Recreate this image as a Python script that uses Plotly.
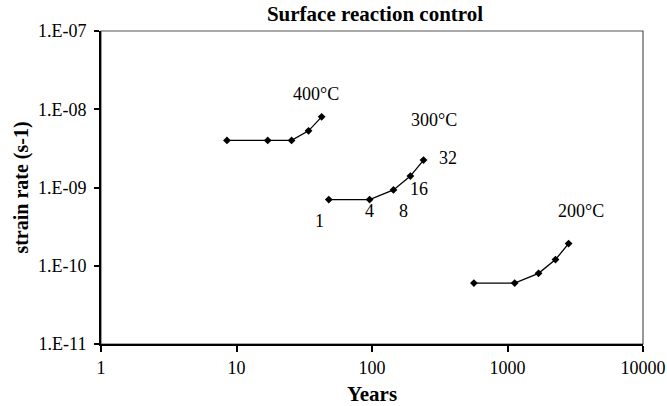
import math
import plotly.graph_objects as go

# Data
years_400 = [8.5, 17, 25.5, 34, 42.5]
rate_400 = [4.0e-9, 4.0e-9, 4.0e-9, 5.3e-9, 8.0e-9]
years_300 = [48, 96, 144, 192, 240]
rate_300 = [7.0e-10, 7.0e-10, 9.3e-10, 1.4e-9, 2.24e-9]
years_200 = [565, 1130, 1695, 2260, 2825]
rate_200 = [6.0e-11, 6.0e-11, 8.0e-11, 1.2e-10, 1.92e-10]
point_labels_300 = ["1", "4", "8", "16", "32"]
temp_labels = ["400°C", "300°C", "200°C"]

x_tickvals = [1, 10, 100, 1000, 10000]
x_ticktext = ["1", "10", "100", "1000", "10000"]
y_tickvals = [1e-11, 1e-10, 1e-9, 1e-8, 1e-7]
y_ticktext = ["1.E-11", "1.E-10", "1.E-09", "1.E-08", "1.E-07"]

FONT = "Liberation Serif, Times New Roman, serif"

fig = go.Figure()
for xs, ys in [(years_400, rate_400), (years_300, rate_300), (years_200, rate_200)]:
    fig.add_trace(go.Scatter(
        x=xs, y=ys, mode="lines+markers",
        line=dict(color="black", width=1.3),
        marker=dict(symbol="diamond", size=6, color="black"),
        showlegend=False, hoverinfo="skip",
    ))

annotations = []
# point labels on 300°C series (offsets in pixels)
offsets = [(-9, -21), (0, -11), (10, -21), (9, -13), (24, 2)]
for xv, yv, lab, (dx, dy) in zip(years_300, rate_300, point_labels_300, offsets):
    annotations.append(dict(x=math.log10(xv), y=math.log10(yv), xref="x", yref="y",
                            text=lab, showarrow=False, xshift=dx, yshift=dy,
                            font=dict(family=FONT, size=18, color="black")))
# temperature labels relative to last point of each series
series = [(years_400, rate_400), (years_300, rate_300), (years_200, rate_200)]
toffs = [(-6, 23), (10, 40), (12, 33)]
for (xs, ys), lab, (dx, dy) in zip(series, temp_labels, toffs):
    annotations.append(dict(x=math.log10(xs[-1]), y=math.log10(ys[-1]), xref="x", yref="y",
                            text=lab, showarrow=False, xshift=dx, yshift=dy,
                            font=dict(family=FONT, size=18, color="black")))

fig.update_layout(
    width=667, height=406,
    margin=dict(l=101, r=24, t=31, b=62, autoexpand=False),
    paper_bgcolor="white", plot_bgcolor="white",
    font=dict(family=FONT, size=18, color="black"),
    title=dict(text="<b>Surface reaction control</b>", x=375 / 667, xanchor="center",
               y=1 - 14 / 406, yanchor="middle", font=dict(family=FONT, size=21)),
    xaxis=dict(type="log", range=[0, 4], tickvals=x_tickvals, ticktext=x_ticktext,
               automargin=False,
               showgrid=False, zeroline=False, showline=True, linecolor="black", linewidth=2,
               ticks="outside", ticklen=6, tickwidth=1.5, tickcolor="black",
               title=dict(text="<b>Years</b>", font=dict(family=FONT, size=21), standoff=15),
               tickfont=dict(family=FONT, size=18)),
    yaxis=dict(type="log", range=[-11, -7], tickvals=y_tickvals, ticktext=y_ticktext,
               automargin=False,
               showgrid=False, zeroline=False, showline=True, linecolor="black", linewidth=2,
               ticks="outside", ticklen=5, tickwidth=1.5, tickcolor="black",
               ticklabelstandoff=4,
               title=dict(text="<b>strain rate (s-1)</b>", font=dict(family=FONT, size=20), standoff=4),
               tickfont=dict(family=FONT, size=18)),
    annotations=annotations,
    shapes=[dict(type="rect", xref="paper", yref="paper", x0=0, y0=0, x1=1, y1=1,
                 line=dict(color="#555555", width=1.2), layer="below")],
)

fig.write_html("out.html",
               config={"displayModeBar": False},
               post_script="document.body.style.margin='0';document.body.style.padding='0';")
